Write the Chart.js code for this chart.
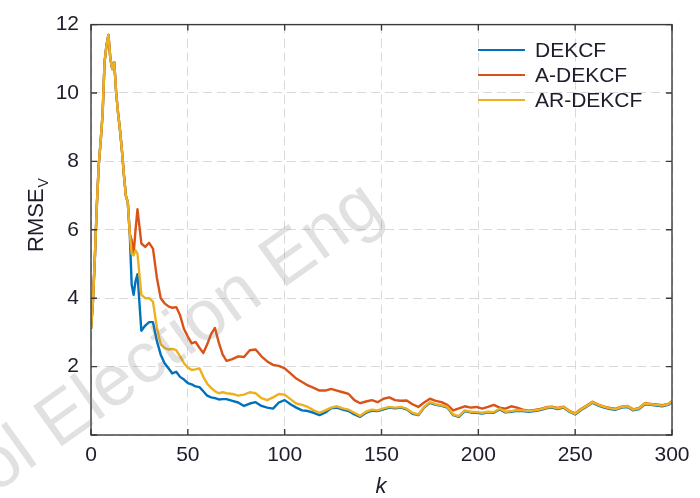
<!DOCTYPE html>
<html>
<head>
<meta charset="utf-8">
<script src="https://cdn.jsdelivr.net/npm/chart.js@4.4.1/dist/chart.umd.min.js"></script>
<style>
  body { margin: 0; background: #fff; }
</style>
</head>
<body>
<canvas id="rmseChart" width="700" height="498"></canvas>
<script>
// sample index k
const kValues = [0,1,2,3,4,5,6,7,8,9,10,11,12,13,14,15,16,17,18,19,20,21,22,23,24,
  26,28,30,32,34,36,38,40,42,44,46,48,50,52,54,56,58,60,62,64,66,68,70,
  73,76,79,82,85,88,91,94,97,100,103,106,109,112,115,118,121,124,127,130,
  133,136,139,142,145,148,151,154,157,160,163,166,169,172,175,178,181,184,187,190,
  193,196,199,202,205,208,211,214,217,220,223,226,229,232,235,238,241,244,247,250,
  253,256,259,262,265,268,271,274,277,280,283,286,289,292,295,298,300];

const dekcf = [3.1,3.9,5.2,6.7,7.9,8.6,9.4,10.9,11.4,11.7,11.0,10.7,10.9,10.0,9.4,8.9,8.3,7.6,7.0,6.8,5.9,
  4.4,4.1,4.5,4.7,
  3.05,3.2,3.3,3.3,2.75,2.35,2.1,1.95,1.8,1.85,1.7,1.62,1.52,1.48,1.42,1.4,1.28,1.15,1.1,1.08,1.04,1.05,1.05,
  1.0,0.95,0.85,0.92,0.96,0.85,0.8,0.77,0.95,1.02,0.9,0.8,0.72,0.7,0.65,0.58,0.66,0.78,0.8,0.74,
  0.7,0.6,0.53,0.65,0.71,0.7,0.75,0.8,0.78,0.8,0.75,0.62,0.58,0.8,0.94,0.88,0.85,0.8,0.58,0.53,
  0.7,0.66,0.65,0.63,0.66,0.65,0.75,0.66,0.68,0.71,0.7,0.68,
  0.7,0.73,0.78,0.8,0.76,0.8,0.68,0.6,0.73,0.83,0.94,0.86,0.8,0.76,0.74,0.8,0.82,0.72,0.76,0.9,0.88,0.86,0.84,0.88,0.96];

const aDekcf = [3.1,3.9,5.2,6.7,7.9,8.6,9.4,10.9,11.4,11.7,11.0,10.7,10.9,10.0,9.4,8.9,8.3,7.6,7.0,6.8,5.9,
  5.7,5.3,6.0,6.6,
  5.6,5.5,5.62,5.45,4.6,4.0,3.85,3.76,3.72,3.74,3.5,3.1,2.88,2.68,2.72,2.55,2.4,2.65,2.95,3.13,2.7,2.35,2.17,
  2.22,2.3,2.28,2.48,2.5,2.3,2.15,2.05,2.02,1.95,1.8,1.65,1.55,1.45,1.38,1.3,1.3,1.35,1.3,1.25,
  1.2,1.02,0.93,0.98,1.02,0.96,1.06,1.1,1.02,1.0,1.01,0.9,0.82,0.95,1.06,1.0,0.96,0.88,0.72,0.78,
  0.84,0.8,0.82,0.77,0.82,0.88,0.8,0.77,0.84,0.8,0.74,0.71,
  0.73,0.76,0.81,0.83,0.79,0.83,0.71,0.63,0.76,0.86,0.97,0.89,0.83,0.79,0.77,0.83,0.85,0.75,0.79,0.93,0.91,0.89,0.87,0.91,0.99];

const arDekcf = [3.1,3.9,5.2,6.7,7.9,8.6,9.4,10.9,11.4,11.7,11.0,10.7,10.9,10.0,9.4,8.9,8.3,7.6,7.0,6.8,5.9,
  5.3,5.25,5.4,5.3,
  4.1,4.0,4.0,3.9,3.15,2.65,2.55,2.5,2.52,2.48,2.3,2.1,1.97,1.9,1.92,1.95,1.7,1.5,1.38,1.28,1.22,1.25,1.22,
  1.2,1.15,1.18,1.25,1.22,1.08,1.02,1.1,1.2,1.18,1.05,0.92,0.88,0.82,0.72,0.65,0.72,0.8,0.84,0.78,
  0.74,0.65,0.56,0.68,0.74,0.72,0.78,0.82,0.8,0.82,0.77,0.65,0.6,0.82,0.96,0.9,0.87,0.82,0.6,0.55,
  0.72,0.68,0.67,0.65,0.68,0.67,0.77,0.68,0.7,0.73,0.72,0.7,
  0.72,0.75,0.8,0.82,0.78,0.82,0.7,0.62,0.75,0.85,0.96,0.88,0.82,0.78,0.76,0.82,0.84,0.74,0.78,0.92,0.9,0.88,0.86,0.9,0.98];

const seriesNames = ["DEKCF", "A-DEKCF", "AR-DEKCF"];
const seriesColors = ["#0072BD", "#D95319", "#EDB120"];
const xTicks = [0, 50, 100, 150, 200, 250, 300];
const yTicks = [0, 2, 4, 6, 8, 10, 12];

const FONT = "'Liberation Sans', Arial, sans-serif";
const TEXT = "#1d1d2b";

const toPoints = (vals) => kValues.map((k, i) => ({ x: k, y: vals[i] }));

// box, inward ticks, legend, axis titles, watermark
const decorations = {
  id: "decorations",
  afterDraw(chart) {
    const { ctx, chartArea: a, scales } = chart;
    ctx.save();

    ctx.strokeStyle = "#3a3a3a";
    ctx.lineWidth = 1.4;
    ctx.strokeRect(a.left, a.top, a.right - a.left, a.bottom - a.top);
    ctx.beginPath();
    xTicks.forEach((v) => {
      const px = scales.x.getPixelForValue(v);
      ctx.moveTo(px, a.bottom); ctx.lineTo(px, a.bottom - 6);
      ctx.moveTo(px, a.top); ctx.lineTo(px, a.top + 6);
    });
    yTicks.forEach((v) => {
      const py = scales.y.getPixelForValue(v);
      ctx.moveTo(a.left, py); ctx.lineTo(a.left + 6, py);
      ctx.moveTo(a.right, py); ctx.lineTo(a.right - 6, py);
    });
    ctx.stroke();

    // legend
    ctx.font = "21px " + FONT;
    ctx.textBaseline = "middle";
    ctx.textAlign = "left";
    seriesNames.forEach((name, i) => {
      const y = 50 + i * 25;
      ctx.strokeStyle = seriesColors[i];
      ctx.lineWidth = 2;
      ctx.beginPath();
      ctx.moveTo(478, y);
      ctx.lineTo(525, y);
      ctx.stroke();
      ctx.fillStyle = TEXT;
      ctx.fillText(name, 535, y + 1);
    });

    // y title with subscript
    ctx.save();
    ctx.translate(43, 252);
    ctx.rotate(-Math.PI / 2);
    ctx.textBaseline = "alphabetic";
    ctx.font = "22px " + FONT;
    ctx.fillText("RMSE", 0, 0);
    const w = ctx.measureText("RMSE").width;
    ctx.font = "14px " + FONT;
    ctx.fillText("V", w + 1, 5);
    ctx.restore();

    // x title
    ctx.font = "italic 22px " + FONT;
    ctx.textAlign = "center";
    ctx.textBaseline = "alphabetic";
    ctx.fillText("k", 381, 493);

    // watermark
    ctx.save();
    ctx.translate(-5, 494);
    ctx.rotate(-35.5 * Math.PI / 180);
    ctx.font = "72px " + FONT;
    ctx.textAlign = "left";
    ctx.fillStyle = "rgba(120,120,120,0.22)";
    ctx.fillText("ol Election Eng", 0, 0);
    ctx.restore();

    ctx.restore();
  },
};

new Chart(document.getElementById("rmseChart"), {
  type: "line",
  data: {
    datasets: [
      { label: seriesNames[0], data: toPoints(dekcf), borderColor: seriesColors[0], order: 3 },
      { label: seriesNames[1], data: toPoints(aDekcf), borderColor: seriesColors[1], order: 2 },
      { label: seriesNames[2], data: toPoints(arDekcf), borderColor: seriesColors[2], order: 1 },
    ],
  },
  options: {
    responsive: false,
    animation: false,
    elements: {
      point: { radius: 0 },
      line: { borderWidth: 2.4, tension: 0, borderJoinStyle: "round" },
    },
    layout: { padding: { top: 21, right: 28, left: 0, bottom: 0 } },
    plugins: { legend: { display: false }, tooltip: { enabled: false } },
    scales: {
      x: {
        type: "linear",
        min: 0,
        max: 300,
        afterFit: (s) => { s.height = 63; },
        afterBuildTicks: (s) => { s.ticks = xTicks.map((v) => ({ value: v })); },
        ticks: { padding: 8, color: TEXT, font: { family: FONT, size: 21 } },
        grid: { color: "#d9d9d9", lineWidth: 1, drawTicks: false },
        border: { display: false, dash: [9, 5] },
      },
      y: {
        min: 0,
        max: 12,
        afterFit: (s) => { s.width = 91; },
        afterBuildTicks: (s) => { s.ticks = yTicks.map((v) => ({ value: v })); },
        ticks: {
          padding: 12,
          color: TEXT,
          font: { family: FONT, size: 21 },
          callback: (v) => (v === 0 ? "" : v),
        },
        grid: { color: "#d9d9d9", lineWidth: 1, drawTicks: false },
        border: { display: false, dash: [9, 5] },
      },
    },
  },
  plugins: [decorations],
});
</script>
</body>
</html>
